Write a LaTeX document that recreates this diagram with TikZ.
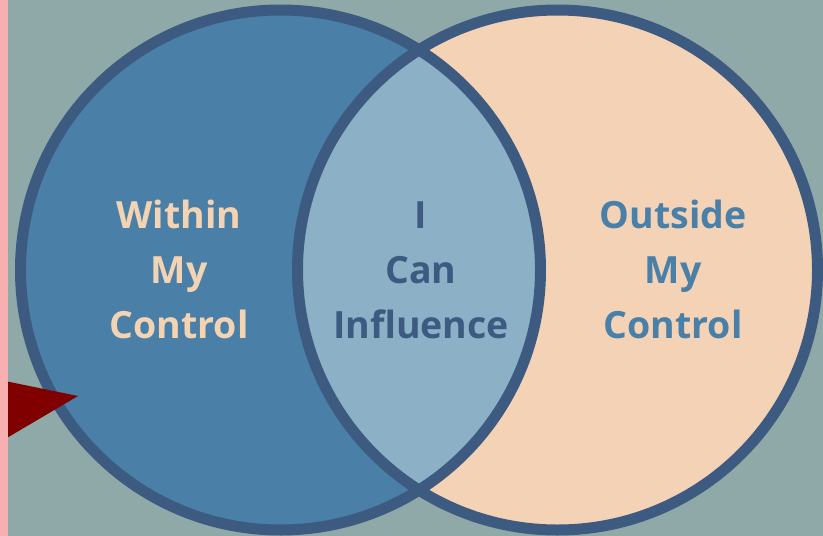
\documentclass[tikz,border=0pt]{standalone}
\usepackage{fontspec}
\setmainfont{Open Sans}
\definecolor{bgc}{HTML}{8FA8A8}
\definecolor{leftc}{HTML}{4A7FA7}
\definecolor{midc}{HTML}{8CB0C6}
\definecolor{rightc}{HTML}{F4D2B6}
\definecolor{edgec}{HTML}{3D5A80}
\definecolor{creamc}{HTML}{F2D3B4}
\definecolor{pinkc}{HTML}{F9AFAF}
\definecolor{redc}{HTML}{800000}
\tikzset{
  lbl/.style={font=\fontsize{37.5}{55}\selectfont\bfseries, align=center, inner sep=0pt},
}
\begin{document}
\begin{tikzpicture}[x=1pt,y=-1pt]
\useasboundingbox (0,0) rectangle (823,536);
\fill[bgc] (0,0) rectangle (823,536);
\coordinate (cl) at (280.5,270);
\coordinate (cr) at (557.5,270);
\fill[leftc] (cl) circle[radius=260];
\fill[rightc] (cr) circle[radius=260];
\begin{scope}
  \clip (cl) circle[radius=260];
  \fill[midc] (cr) circle[radius=260];
\end{scope}
\draw[edgec, line width=11pt] (cl) circle[radius=260];
\draw[edgec, line width=11pt] (cr) circle[radius=260];
\node[lbl, text=creamc, anchor=base] (within) at (179,338) {Within\\My\\Control};
\node[lbl, text=edgec, anchor=base] (can) at (421,338) {I\\Can\\Influence};
\node[lbl, text=leftc, anchor=base] (outside) at (673,338) {Outside\\My\\Control};
\fill[redc] (0,380) -- (78,396) -- (0,442) -- cycle;
\fill[pinkc] (0,0) rectangle (8,536);
\end{tikzpicture}
\end{document}
